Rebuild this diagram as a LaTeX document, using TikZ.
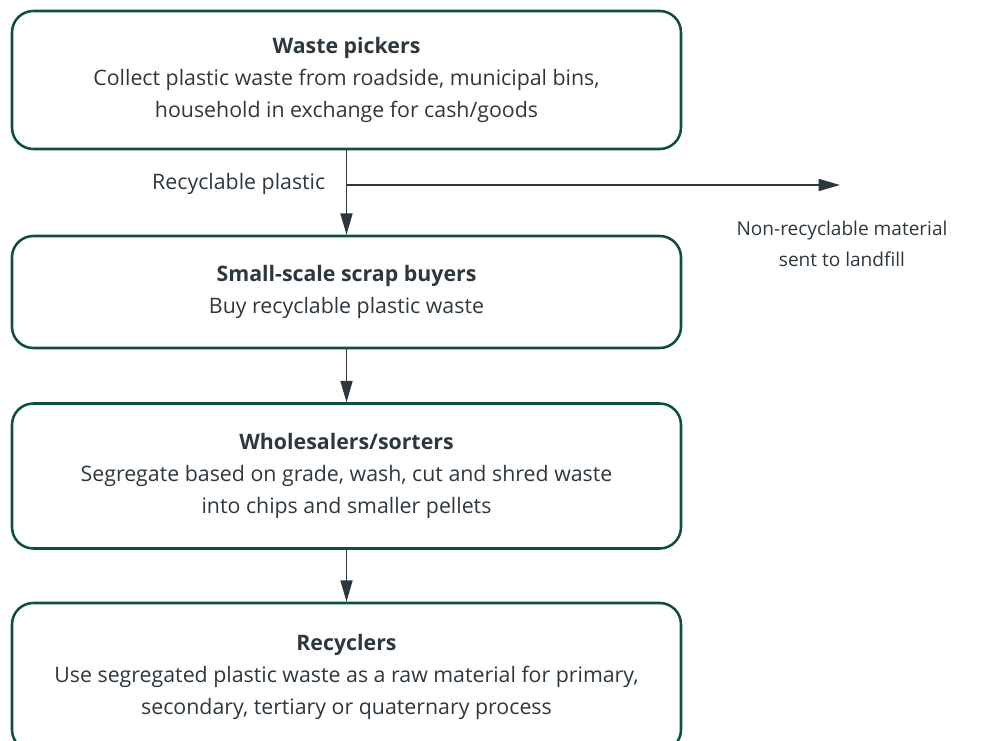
\documentclass[tikz,border=0pt]{standalone}
\usepackage{fontspec}
\setmainfont{Open Sans}
\usepackage{xcolor}
\usetikzlibrary{arrows.meta,positioning}
\definecolor{wpGreen}{RGB}{ 12, 82, 52}
\definecolor{wpInk}  {RGB}{ 45, 55, 62}

\begin{document}
\begin{tikzpicture}[
  x=0.75pt,y=-0.75pt,
  every node/.style={font=\fontsize{16}{24}\selectfont,text=wpInk},
  >={Triangle[length=16pt,width=9pt]},
  stage/.style={draw=wpGreen,line width=1.9pt,rounded corners=16pt,
                minimum width=669*0.75pt,align=center,inner sep=0pt},
  flow/.style={->,wpInk,line width=1.2pt}
]
\useasboundingbox (0,0) rectangle (989,740);

\node[stage,minimum height=138*0.75pt] (pickers) at (346.5,80)
  {\textbf{Waste pickers}\\Collect plastic waste from roadside, municipal bins,\\household in exchange for cash/goods};
\node[stage,minimum height=112*0.75pt] (buyers) at (346.5,292)
  {\textbf{Small-scale scrap buyers}\\Buy recyclable plastic waste};
\node[stage,minimum height=145*0.75pt] (sorters) at (346.5,476)
  {\textbf{Wholesalers/sorters}\\Segregate based on grade, wash, cut and shred waste\\into chips and smaller pellets};
\node[stage,minimum height=148*0.75pt] (recyclers) at (346.5,677)
  {\textbf{Recyclers}\\Use segregated plastic waste as a raw material for primary,\\secondary, tertiary or quaternary process};

\coordinate (split) at (346,185);
\coordinate (landfill) at (840,185);
\node[anchor=east] (recLabel) at (330,184) {Recyclable plastic};
\node[align=center,font=\fontsize{14.3}{23.5}\selectfont] (nonRec) at (842,244)
  {Non-recyclable material\\sent to landfill};

\draw[flow] (pickers) -- (buyers);
\draw[flow] (split) -- (landfill);
\draw[flow] (buyers) -- (sorters);
\draw[flow] (sorters) -- (recyclers);
\end{tikzpicture}
\end{document}
